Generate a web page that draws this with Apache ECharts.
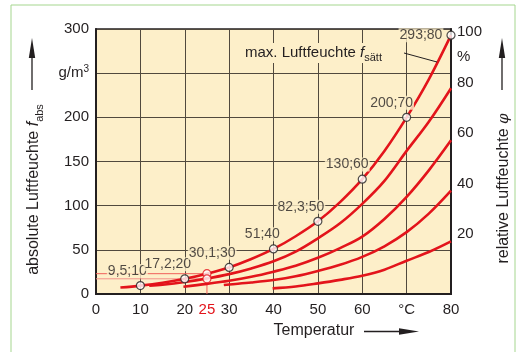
<!DOCTYPE html>
<html>
<head>
<meta charset="utf-8">
<script src="https://cdn.jsdelivr.net/npm/echarts@6/dist/echarts.min.js"></script>
<style>
html, body { margin: 0; padding: 0; background: #ffffff; }
#chart { width: 526px; height: 352px; }
</style>
</head>
<body>
<div id="chart"></div>
<script>
// Temperature (°C) and absolute humidity (g/m³) along each relative-humidity curve
const tSat = [5.5, 10, 15, 20, 25, 30, 35, 40, 45, 50, 55, 60, 65, 70, 75, 80];
const fSat = [7.3, 9.5, 12.8, 17.2, 23, 30.1, 39.6, 51, 65.4, 82.3, 104, 130, 162, 200, 243, 293];

const t80 = [12, 15, 20, 25, 30, 35, 40, 45, 50, 55, 60, 65, 70, 75, 80];
const f80 = [9.4, 10.5, 13.5, 17.5, 22.5, 29, 37, 48, 63, 80, 102, 128, 162, 195, 233];

const t60 = [19.7, 25, 30, 35, 40, 45, 50, 55, 60, 65, 70, 75, 80];
const f60 = [8.3, 11.5, 15, 19.5, 25.3, 32, 41, 52, 65, 85, 110, 140, 174];

const t40 = [28.8, 30, 35, 40, 45, 50, 55, 60, 65, 70, 75, 80];
const f40 = [10.2, 10.8, 13, 15.8, 20, 26, 33, 42, 54, 70, 91, 117];

const t20 = [39.8, 45, 50, 55, 60, 65, 70, 75, 80];
const f20 = [6.4, 8.5, 12, 16, 20.7, 27.5, 37.7, 47.5, 59.5];

// Labelled saturation points
const markTemp = [10, 20, 30, 40, 50, 60, 70, 80];
const markSat = [9.5, 17.2, 30.1, 51, 82.3, 130, 200, 293];
const markText = ['9,5;10', '17,2;20', '30,1;30', '51;40', '82,3;50', '130;60', '200;70', '293;80'];

// Worked example at 25 °C
const exTemp = 25;
const exSat = 23;
const exAbs = 17.2;

// Axis tick labels
const xTicks = [0, 10, 20, 25, 30, 40, 50, 60, 70, 80];
const xTickText = { 25: '{r|25}', 70: '°C' };
const yTickText = { 250: '{u|g/m}{sup|3}' };
const rhTicks = [20, 40, 60, 80, 90, 100];
const rhTickText = { 90: '%' };

const FONT = '"Liberation Sans", Arial, Helvetica, sans-serif';
const INK = '#231f20';
const RED = '#e3141b';
const PAPER = '#fdefc9';

const pairs = (xs, ys) => xs.map((x, i) => [x, ys[i]]);

const curve = (name, xs, ys) => ({
  name: name,
  type: 'line',
  smooth: 0.35,
  showSymbol: false,
  silent: true,
  z: 3,
  data: pairs(xs, ys),
  lineStyle: { color: RED, width: 2.6 },
  clip: true
});

const chart = echarts.init(document.getElementById('chart'), null, { renderer: 'canvas' });

chart.setOption({
  backgroundColor: '#ffffff',
  animation: false,
  textStyle: { fontFamily: FONT, color: INK },
  grid: {
    left: 96, right: 75, top: 29, bottom: 58,
    show: true,
    backgroundColor: PAPER,
    borderColor: INK,
    borderWidth: 1.5
  },
  xAxis: {
    type: 'value',
    min: 0, max: 80, interval: 10,
    name: 'Temperatur',
    nameLocation: 'middle',
    nameGap: 29,
    nameTextStyle: { fontFamily: FONT, fontSize: 16, color: INK, align: 'left' },
    axisLine: { show: true, lineStyle: { color: INK, width: 2 } },
    axisTick: { show: false },
    splitLine: { show: true, lineStyle: { color: '#51493d', width: 1 } },
    axisLabel: {
      customValues: xTicks,
      margin: 8,
      fontFamily: FONT, fontSize: 15, color: INK,
      formatter: v => (xTickText[v] !== undefined ? xTickText[v] : String(v)),
      rich: { r: { color: RED, fontFamily: FONT, fontSize: 15 } }
    }
  },
  yAxis: [
    {
      type: 'value',
      min: 0, max: 300, interval: 50,
      name: '{t|absolute Luftfeuchte }{i|f}{s|abs}',
      nameLocation: 'middle',
      nameRotate: 90,
      nameGap: 51,
      nameTextStyle: {
        padding: [0, 56, 0, 0],
        rich: {
          t: { fontFamily: FONT, fontSize: 16, color: INK, lineHeight: 22, verticalAlign: 'middle' },
          i: { fontFamily: FONT, fontSize: 16, fontStyle: 'italic', color: INK, lineHeight: 22, verticalAlign: 'middle' },
          s: { fontFamily: FONT, fontSize: 11, color: INK, lineHeight: 22, verticalAlign: 'bottom' }
        }
      },
      axisLine: { show: true, lineStyle: { color: INK, width: 2 } },
      axisTick: { show: false },
      splitLine: { show: true, lineStyle: { color: '#51493d', width: 1 } },
      axisLabel: {
        margin: 7,
        fontFamily: FONT, fontSize: 15, color: INK,
        formatter: v => (yTickText[v] !== undefined ? yTickText[v] : String(v)),
        rich: {
          u: { fontFamily: FONT, fontSize: 15, color: INK, lineHeight: 18, verticalAlign: 'middle' },
          sup: { fontFamily: FONT, fontSize: 10, color: INK, lineHeight: 18, verticalAlign: 'top' }
        }
      }
    },
    {
      // relative humidity scale along the right edge
      type: 'value',
      position: 'right',
      min: -3.8, max: 101.2,
      name: '{t|relative Luftfeuchte }{i|φ}',
      nameLocation: 'middle',
      nameRotate: 90,
      nameGap: 45,
      nameTextStyle: {
        padding: [0, 54, 0, 0],
        rich: {
          t: { fontFamily: FONT, fontSize: 16, color: INK },
          i: { fontFamily: 'DejaVu Serif, serif', fontSize: 15, fontStyle: 'italic', color: INK }
        }
      },
      axisLine: { show: true, lineStyle: { color: INK, width: 2 } },
      axisTick: { show: false, customValues: rhTicks },
      splitLine: { show: false },
      axisLabel: {
        customValues: rhTicks,
        margin: 6,
        fontFamily: FONT, fontSize: 15, color: INK,
        formatter: v => (rhTickText[v] !== undefined ? rhTickText[v] : String(v))
      }
    }
  ],
  series: [
    // Construction lines of the 25 °C example
    {
      type: 'line', silent: true, showSymbol: false, z: 2,
      data: [[0, exSat], [exTemp, exSat]],
      lineStyle: { color: '#f0605a', width: 1 }
    },
    {
      type: 'line', silent: true, showSymbol: false, z: 2,
      data: [[0, exAbs], [exTemp, exAbs]],
      lineStyle: { color: '#f3928a', width: 1 }
    },
    {
      type: 'line', silent: true, showSymbol: false, z: 2,
      data: [[exTemp, 0], [exTemp, exSat]],
      lineStyle: { color: '#f0605a', width: 1 }
    },
    curve('20 %', t20, f20),
    curve('40 %', t40, f40),
    curve('60 %', t60, f60),
    curve('80 %', t80, f80),
    curve('100 %', tSat, fSat),
    // Labelled saturation values
    {
      type: 'scatter',
      silent: true,
      z: 6,
      symbol: 'circle',
      symbolSize: 8,
      itemStyle: { color: '#ffffff', borderColor: INK, borderWidth: 1.2 },
      data: markTemp.map((t, i) => {
        const item = { value: [t, markSat[i]], name: markText[i] };
        // the topmost value sits beside its point, next to the plot border
        if (i === markTemp.length - 1) item.label = { position: 'left', distance: 3 };
        return item;
      }),
      label: {
        show: true,
        formatter: p => p.name,
        position: [12, -10],
        align: 'right',
        verticalAlign: 'middle',
        fontFamily: FONT, fontSize: 14, color: INK,
        backgroundColor: PAPER,
        padding: [0, 1]
      }
    },
    // Example state points at 25 °C
    {
      type: 'scatter',
      silent: true,
      z: 6,
      symbol: 'circle',
      symbolSize: 8,
      itemStyle: { color: '#ffffff', borderColor: RED, borderWidth: 1.2 },
      data: [[exTemp, exSat], [exTemp, exAbs]]
    }
  ],
  graphic: [
    // outer frame
    {
      type: 'rect', z: -10, silent: true,
      shape: { x: 11, y: 5, width: 504, height: 360 },
      style: { fill: 'none', stroke: '#a5d68f', lineWidth: 1 }
    },
    // saturation curve caption and leader
    {
      type: 'text', z: 20, silent: true,
      x: 245, y: 53,
      style: {
        text: '{t|max. Luftfeuchte }{i|f}{s|sätt}',
        verticalAlign: 'middle',
        backgroundColor: PAPER,
        rich: {
          t: { fontFamily: FONT, fontSize: 15, fill: INK, lineHeight: 20, verticalAlign: 'middle' },
          i: { fontFamily: FONT, fontSize: 15, fontStyle: 'italic', fill: INK, lineHeight: 20, verticalAlign: 'middle' },
          s: { fontFamily: FONT, fontSize: 11, fill: INK, lineHeight: 20, verticalAlign: 'bottom' }
        }
      }
    },
    {
      type: 'line', z: 20, silent: true,
      shape: { x1: 404, y1: 53, x2: 437, y2: 62 },
      style: { stroke: INK, lineWidth: 1 }
    },
    // arrows beside the axis titles
    {
      type: 'line', silent: true,
      shape: { x1: 32, y1: 90, x2: 32, y2: 52 },
      style: { stroke: INK, lineWidth: 1.3 }
    },
    {
      type: 'polygon', silent: true,
      shape: { points: [[32, 38], [28.8, 58], [35.2, 58]] },
      style: { fill: INK }
    },
    {
      type: 'line', silent: true,
      shape: { x1: 502, y1: 90, x2: 502, y2: 52 },
      style: { stroke: INK, lineWidth: 1.3 }
    },
    {
      type: 'polygon', silent: true,
      shape: { points: [[502, 38], [498.8, 58], [505.2, 58]] },
      style: { fill: INK }
    },
    {
      type: 'line', silent: true,
      shape: { x1: 364, y1: 331.5, x2: 404, y2: 331.5 },
      style: { stroke: INK, lineWidth: 1.3 }
    },
    {
      type: 'polygon', silent: true,
      shape: { points: [[419, 331.5], [399, 328.3], [399, 334.7]] },
      style: { fill: INK }
    }
  ]
});
</script>
</body>
</html>
